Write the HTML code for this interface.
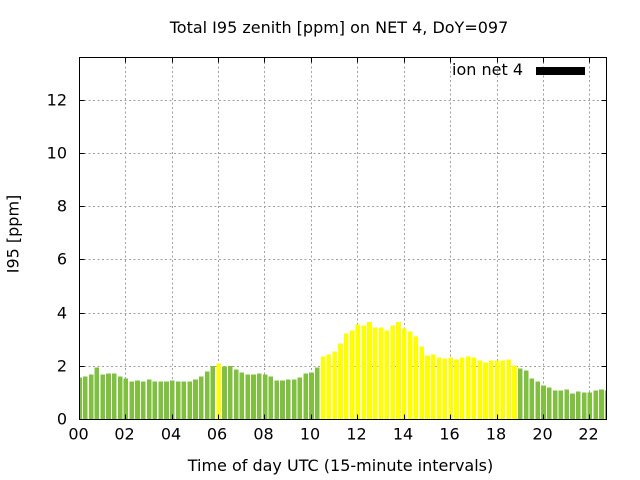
<!DOCTYPE html>
<html>
<head>
<meta charset="utf-8">
<style>
html,body{margin:0;padding:0;background:#fff;}
svg{display:block;}
text{font-family:"DejaVu Sans","Liberation Sans",sans-serif;font-size:16px;fill:#000;}
.g rect{fill:#80c040;}
.y rect{fill:#ffff00;}
</style>
</head>
<body>
<svg width="640" height="480" viewBox="0 0 640 480" xmlns="http://www.w3.org/2000/svg">
<rect x="0" y="0" width="640" height="480" fill="#fff"/>
<defs><clipPath id="pc"><rect x="79.5" y="57" width="527" height="362.5"/></clipPath></defs>
<g stroke="#a0a0a0" stroke-width="1" stroke-dasharray="2,2.5" fill="none">
<line x1="79.5" x2="606.5" y1="366.5" y2="366.5"/>
<line x1="79.5" x2="606.5" y1="313.5" y2="313.5"/>
<line x1="79.5" x2="606.5" y1="259.5" y2="259.5"/>
<line x1="79.5" x2="606.5" y1="206.5" y2="206.5"/>
<line x1="79.5" x2="606.5" y1="153.5" y2="153.5"/>
<line x1="79.5" x2="606.5" y1="100.5" y2="100.5"/>
<line y1="57.5" y2="419" x1="125.5" x2="125.5"/>
<line y1="57.5" y2="419" x1="172.5" x2="172.5"/>
<line y1="57.5" y2="419" x1="218.5" x2="218.5"/>
<line y1="57.5" y2="419" x1="264.5" x2="264.5"/>
<line y1="57.5" y2="419" x1="311.5" x2="311.5"/>
<line y1="57.5" y2="419" x1="357.5" x2="357.5"/>
<line y1="57.5" y2="419" x1="404.5" x2="404.5"/>
<line y1="57.5" y2="419" x1="450.5" x2="450.5"/>
<line y1="57.5" y2="419" x1="497.5" x2="497.5"/>
<line y1="57.5" y2="419" x1="543.5" x2="543.5"/>
<line y1="57.5" y2="419" x1="589.5" x2="589.5"/>
</g>
<g clip-path="url(#pc)" shape-rendering="crispEdges">
<g class="g">
<rect x="77.2" y="377.5" width="4.6" height="41.5"/>
<rect x="83.0" y="376.5" width="4.6" height="42.5"/>
<rect x="88.8" y="374.6" width="4.6" height="44.4"/>
<rect x="94.6" y="367.4" width="4.6" height="51.6"/>
<rect x="100.4" y="374.6" width="4.6" height="44.4"/>
<rect x="106.2" y="373.5" width="4.6" height="45.5"/>
<rect x="112.0" y="373.5" width="4.6" height="45.5"/>
<rect x="117.8" y="376.5" width="4.6" height="42.5"/>
<rect x="123.6" y="378.6" width="4.6" height="40.4"/>
<rect x="129.4" y="381.5" width="4.6" height="37.5"/>
<rect x="135.2" y="380.5" width="4.6" height="38.5"/>
<rect x="141.0" y="381.5" width="4.6" height="37.5"/>
<rect x="146.8" y="379.7" width="4.6" height="39.3"/>
<rect x="152.6" y="381.5" width="4.6" height="37.5"/>
<rect x="158.4" y="381.5" width="4.6" height="37.5"/>
<rect x="164.2" y="381.5" width="4.6" height="37.5"/>
<rect x="170.0" y="380.5" width="4.6" height="38.5"/>
<rect x="175.8" y="381.5" width="4.6" height="37.5"/>
<rect x="181.6" y="381.5" width="4.6" height="37.5"/>
<rect x="187.4" y="381.5" width="4.6" height="37.5"/>
<rect x="193.2" y="379.7" width="4.6" height="39.3"/>
<rect x="199.0" y="376.5" width="4.6" height="42.5"/>
<rect x="204.8" y="371.4" width="4.6" height="47.6"/>
<rect x="210.6" y="365.8" width="4.6" height="53.2"/>
<rect x="222.2" y="366.6" width="4.6" height="52.4"/>
<rect x="228.0" y="365.8" width="4.6" height="53.2"/>
<rect x="233.8" y="369.6" width="4.6" height="49.4"/>
<rect x="239.6" y="372.5" width="4.6" height="46.5"/>
<rect x="245.4" y="374.6" width="4.6" height="44.4"/>
<rect x="251.2" y="374.6" width="4.6" height="44.4"/>
<rect x="257.0" y="373.5" width="4.6" height="45.5"/>
<rect x="262.8" y="374.6" width="4.6" height="44.4"/>
<rect x="268.6" y="376.5" width="4.6" height="42.5"/>
<rect x="274.4" y="380.5" width="4.6" height="38.5"/>
<rect x="280.2" y="380.5" width="4.6" height="38.5"/>
<rect x="286.0" y="379.7" width="4.6" height="39.3"/>
<rect x="291.8" y="379.7" width="4.6" height="39.3"/>
<rect x="297.6" y="377.5" width="4.6" height="41.5"/>
<rect x="303.4" y="373.5" width="4.6" height="45.5"/>
<rect x="309.2" y="372.5" width="4.6" height="46.5"/>
<rect x="315.0" y="367.4" width="4.6" height="51.6"/>
<rect x="518.0" y="368.5" width="4.6" height="50.5"/>
<rect x="523.8" y="370.6" width="4.6" height="48.4"/>
<rect x="529.6" y="378.6" width="4.6" height="40.4"/>
<rect x="535.4" y="381.5" width="4.6" height="37.5"/>
<rect x="541.2" y="385.5" width="4.6" height="33.5"/>
<rect x="547.0" y="387.6" width="4.6" height="31.4"/>
<rect x="552.8" y="390.6" width="4.6" height="28.4"/>
<rect x="558.6" y="390.6" width="4.6" height="28.4"/>
<rect x="564.4" y="389.5" width="4.6" height="29.5"/>
<rect x="570.2" y="393.5" width="4.6" height="25.5"/>
<rect x="576.0" y="391.6" width="4.6" height="27.4"/>
<rect x="581.8" y="392.7" width="4.6" height="26.3"/>
<rect x="587.6" y="392.7" width="4.6" height="26.3"/>
<rect x="593.4" y="390.6" width="4.6" height="28.4"/>
<rect x="599.2" y="389.5" width="4.6" height="29.5"/>
<rect x="605.0" y="390.6" width="4.6" height="28.4"/>
</g>
<g class="y">
<rect x="216.4" y="363.4" width="4.6" height="55.6"/>
<rect x="320.8" y="356.5" width="4.6" height="62.5"/>
<rect x="326.6" y="354.4" width="4.6" height="64.6"/>
<rect x="332.4" y="351.5" width="4.6" height="67.5"/>
<rect x="338.2" y="343.5" width="4.6" height="75.5"/>
<rect x="344.0" y="333.4" width="4.6" height="85.6"/>
<rect x="349.8" y="330.5" width="4.6" height="88.5"/>
<rect x="355.6" y="324.4" width="4.6" height="94.6"/>
<rect x="361.4" y="325.4" width="4.6" height="93.6"/>
<rect x="367.2" y="322.2" width="4.6" height="96.8"/>
<rect x="373.0" y="327.3" width="4.6" height="91.7"/>
<rect x="378.8" y="327.3" width="4.6" height="91.7"/>
<rect x="384.6" y="330.5" width="4.6" height="88.5"/>
<rect x="390.4" y="325.4" width="4.6" height="93.6"/>
<rect x="396.2" y="322.2" width="4.6" height="96.8"/>
<rect x="402.0" y="328.4" width="4.6" height="90.6"/>
<rect x="407.8" y="331.3" width="4.6" height="87.7"/>
<rect x="413.6" y="336.3" width="4.6" height="82.7"/>
<rect x="419.4" y="346.4" width="4.6" height="72.6"/>
<rect x="425.2" y="355.5" width="4.6" height="63.5"/>
<rect x="431.0" y="354.4" width="4.6" height="64.6"/>
<rect x="436.8" y="357.6" width="4.6" height="61.4"/>
<rect x="442.6" y="358.4" width="4.6" height="60.6"/>
<rect x="448.4" y="357.6" width="4.6" height="61.4"/>
<rect x="454.2" y="359.5" width="4.6" height="59.5"/>
<rect x="460.0" y="357.6" width="4.6" height="61.4"/>
<rect x="465.8" y="356.5" width="4.6" height="62.5"/>
<rect x="471.6" y="357.6" width="4.6" height="61.4"/>
<rect x="477.4" y="360.5" width="4.6" height="58.5"/>
<rect x="483.2" y="362.4" width="4.6" height="56.6"/>
<rect x="489.0" y="360.5" width="4.6" height="58.5"/>
<rect x="494.8" y="360.5" width="4.6" height="58.5"/>
<rect x="500.6" y="360.5" width="4.6" height="58.5"/>
<rect x="506.4" y="359.5" width="4.6" height="59.5"/>
<rect x="512.2" y="365.6" width="4.6" height="53.4"/>
</g>
</g>
<g stroke="#000" stroke-width="1" fill="none">
<path d="M79.5 366.5h5M79.5 313.5h5M79.5 259.5h5M79.5 206.5h5M79.5 153.5h5M79.5 100.5h5"/>
<path d="M606.5 366.5h-5M606.5 313.5h-5M606.5 259.5h-5M606.5 206.5h-5M606.5 153.5h-5M606.5 100.5h-5"/>
<path d="M125.5 419.5v-5M172.5 419.5v-5M218.5 419.5v-5M264.5 419.5v-5M311.5 419.5v-5M357.5 419.5v-5M404.5 419.5v-5M450.5 419.5v-5M497.5 419.5v-5M543.5 419.5v-5M589.5 419.5v-5"/>
<path d="M125.5 57.5v5M172.5 57.5v5M218.5 57.5v5M264.5 57.5v5M311.5 57.5v5M357.5 57.5v5M404.5 57.5v5M450.5 57.5v5M497.5 57.5v5M543.5 57.5v5M589.5 57.5v5"/>
<rect x="79.5" y="57.5" width="527" height="362"/>
</g>
<g text-anchor="end">
<text x="67" y="424.5">0</text>
<text x="67" y="371.5">2</text>
<text x="67" y="318.5">4</text>
<text x="67" y="264.5">6</text>
<text x="67" y="211.5">8</text>
<text x="67" y="158.5">10</text>
<text x="67" y="105.5">12</text>
</g>
<g text-anchor="middle">
<text x="78.5" y="439.5">00</text>
<text x="124.5" y="439.5">02</text>
<text x="171" y="439.5">04</text>
<text x="217" y="439.5">06</text>
<text x="263.5" y="439.5">08</text>
<text x="310" y="439.5">10</text>
<text x="356.5" y="439.5">12</text>
<text x="403" y="439.5">14</text>
<text x="449.5" y="439.5">16</text>
<text x="496" y="439.5">18</text>
<text x="542.5" y="439.5">20</text>
<text x="588.5" y="439.5">22</text>
</g>
<text x="339" y="33" text-anchor="middle">Total I95 zenith [ppm] on NET 4, DoY=097</text>
<text x="340.5" y="471" text-anchor="middle">Time of day UTC (15-minute intervals)</text>
<text x="0" y="0" text-anchor="middle" transform="translate(18.5,234) rotate(-90)">I95 [ppm]</text>
<text x="523" y="75" text-anchor="end">ion net 4</text>
<rect x="536" y="67" width="49" height="8" fill="#000" shape-rendering="crispEdges"/>
</svg>
</body>
</html>
